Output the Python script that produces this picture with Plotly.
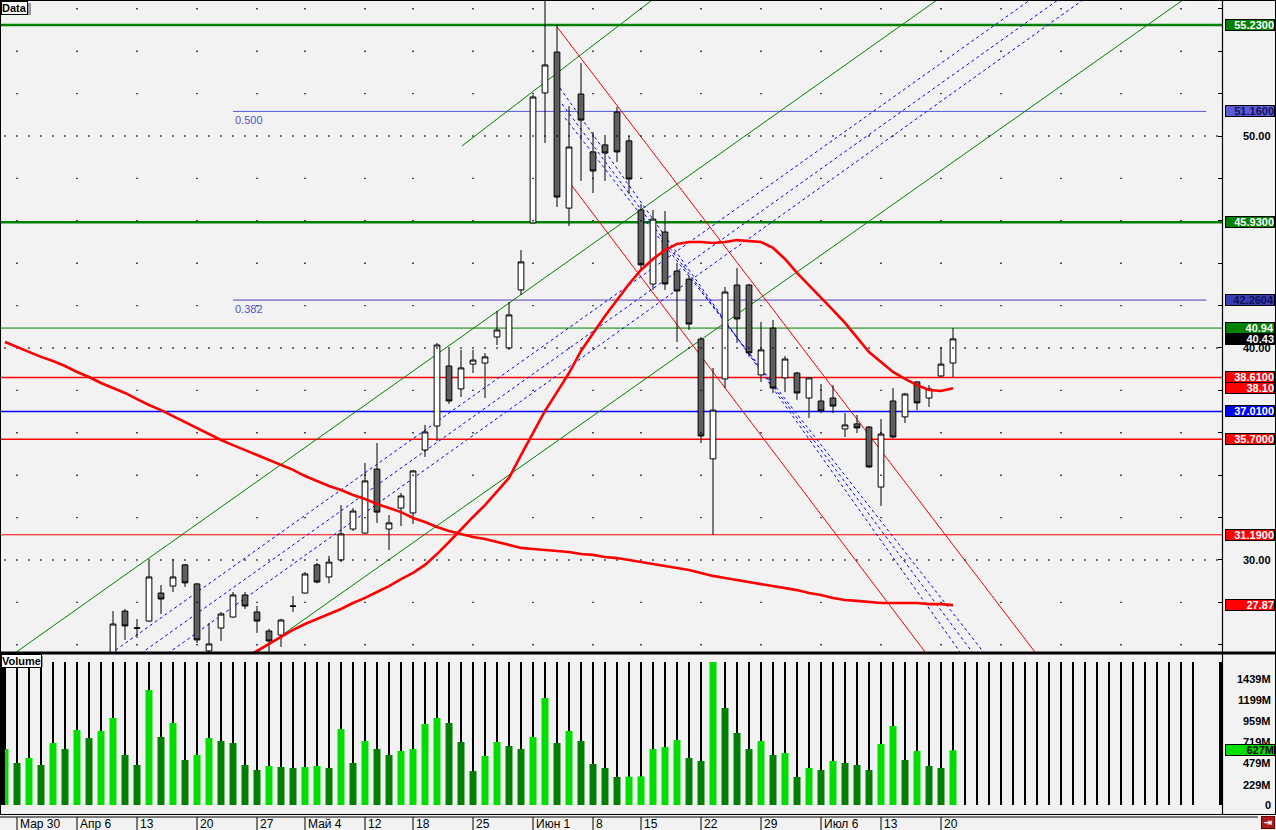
import plotly.graph_objects as go

# ---------------- data ----------------
bar_index = list(range(-1, 79))  # trading-day index, 0 = 30 Mar 2009

opens = [24.6, 24.9, 24.1, 24.4, 25.1, 24.6, 25.0, 24.8, 24.2, 25.1,
         27.59, 26.80, 27.12, 28.44, 28.77, 29.77, 28.87, 25.71, 26.79, 27.31,
         28.35, 27.55, 26.65, 26.46, 27.83, 28.44, 29.77, 29.20, 30.00, 31.46,
         31.27, 34.29, 31.46, 32.45, 32.22, 35.19, 36.32, 39.15, 38.07, 39.24,
         39.29, 40.52, 40.00, 42.74, 45.90, 52.03, 53.96, 46.60, 51.98, 49.25,
         49.58, 51.13, 49.77, 46.51, 43.02, 45.47, 43.63, 43.25, 40.42, 34.77,
         38.54, 42.97, 42.97, 38.73, 40.94, 38.59, 38.82, 37.64, 37.50, 37.64,
         36.18, 36.42, 36.27, 33.44, 37.50, 36.75, 38.40, 37.64, 38.68, 39.29]
highs = [25.3, 25.2, 24.6, 25.4, 25.4, 25.3, 25.4, 25.2, 25.3, 27.59,
         27.69, 27.22, 29.95, 28.82, 30.05, 29.81, 28.92, 27.03, 27.55, 28.49,
         28.49, 27.83, 26.75, 27.22, 28.30, 29.43, 29.86, 30.20, 32.59, 32.45,
         34.58, 35.52, 32.12, 33.16, 34.25, 36.37, 40.24, 39.95, 39.91, 39.91,
         39.76, 41.75, 42.17, 44.62, 51.95, 56.80, 55.23, 51.41, 53.44, 50.19,
         49.95, 51.37, 50.00, 46.79, 46.51, 46.46, 44.01, 43.40, 40.52, 39.06,
         42.88, 43.77, 43.02, 41.23, 41.32, 39.62, 38.87, 38.63, 38.30, 38.25,
         36.93, 36.84, 36.32, 36.65, 38.11, 37.88, 38.42, 38.25, 40.05, 40.94]
lows = [24.0, 23.9, 23.5, 24.2, 24.3, 24.1, 24.5, 23.9, 24.0, 24.9,
        26.23, 26.32, 27.10, 27.45, 28.49, 28.73, 26.08, 25.50, 26.18, 27.28,
        27.69, 26.56, 25.55, 25.90, 27.55, 28.42, 28.90, 28.90, 29.90, 31.37,
        31.25, 31.75, 30.47, 31.60, 31.70, 34.86, 35.61, 37.36, 37.69, 38.82,
        37.64, 40.14, 39.91, 42.50, 45.88, 49.67, 46.65, 45.75, 47.88, 47.31,
        47.88, 48.77, 47.26, 43.68, 42.74, 42.74, 40.28, 40.85, 35.52, 31.19,
        38.11, 40.24, 39.58, 38.40, 37.88, 37.92, 37.55, 36.70, 36.93, 36.93,
        35.80, 35.99, 34.34, 32.55, 35.75, 36.46, 37.07, 37.22, 38.63, 38.63]
closes = [24.9, 24.1, 24.4, 25.1, 24.6, 25.0, 24.8, 24.2, 25.1, 26.98,
          26.89, 26.78, 29.20, 28.16, 29.20, 28.92, 26.23, 26.04, 27.45, 28.35,
          27.83, 27.12, 26.18, 27.17, 27.82, 29.34, 28.96, 29.90, 31.23, 32.31,
          33.73, 32.26, 31.75, 33.02, 34.20, 36.04, 40.14, 37.50, 39.06, 39.43,
          39.58, 40.85, 41.56, 44.06, 51.84, 53.35, 47.12, 49.48, 50.75, 48.35,
          49.20, 49.25, 47.97, 43.92, 46.08, 43.02, 42.69, 41.13, 35.85, 37.07,
          42.64, 41.37, 39.77, 39.91, 38.11, 39.48, 37.88, 38.59, 37.03, 37.26,
          36.37, 36.23, 34.39, 35.94, 35.80, 37.83, 37.41, 38.07, 39.24, 40.43]
volume_m = [641, 481, 538, 458, 710, 641, 859, 767, 848, 997,
            573, 458, 1317, 779, 939, 516, 573, 767, 733, 710,
            458, 401, 447, 435, 424, 435, 447, 424, 870, 481,
            733, 641, 573, 619, 641, 928, 997, 939, 722, 389,
            561, 722, 676, 641, 779, 1226, 710, 848, 733, 470,
            424, 321, 325, 328, 641, 664, 744, 538, 504, 1638,
            1111, 825, 641, 733, 573, 596, 321, 424, 401, 504,
            481, 458, 401, 699, 905, 516, 619, 447, 424, 627]

ma_long = [40.28, 40.05, 39.81, 39.58, 39.39, 39.15, 38.87, 38.63, 38.35, 38.11,
           37.88, 37.59, 37.31, 37.07, 36.79, 36.51, 36.23, 35.94, 35.66, 35.42,
           35.19, 34.95, 34.71, 34.48, 34.25, 33.96, 33.73, 33.49, 33.30, 33.07,
           32.88, 32.64, 32.45, 32.26, 31.98, 31.79, 31.56, 31.37, 31.23, 31.08,
           30.99, 30.85, 30.71, 30.57, 30.52, 30.47, 30.42, 30.38, 30.28, 30.24,
           30.14, 30.09, 30.00, 29.91, 29.81, 29.72, 29.62, 29.53, 29.39, 29.25,
           29.15, 29.06, 28.96, 28.87, 28.77, 28.68, 28.58, 28.44, 28.35, 28.21,
           28.11, 28.07, 28.02, 27.97, 27.97, 27.97, 27.97, 27.92, 27.92, 27.87]
short_ma_index = list(range(18, 79))
ma_short = [25.09, 25.38, 25.71, 26.04, 26.37, 26.70, 26.98, 27.22, 27.45, 27.69,
            27.97, 28.21, 28.49, 28.77, 29.10, 29.39, 29.77, 30.28, 30.85, 31.46,
            32.03, 32.59, 33.21, 33.87, 34.95, 35.99, 37.03, 37.92, 38.82, 39.86,
            40.71, 41.51, 42.26, 43.02, 43.68, 44.20, 44.62, 44.91, 45.00, 45.00,
            44.95, 45.00, 45.09, 45.05, 45.00, 44.72, 44.20, 43.54, 42.97, 42.36,
            41.79, 41.18, 40.52, 39.81, 39.34, 38.87, 38.54, 38.25, 38.02, 37.97, 38.10]

week_tick_index = [0, 5, 10, 15, 20, 24, 29, 33, 38, 43, 48, 52, 57, 62, 67, 72, 77]
week_tick_text = ["Мар 30", "Апр 6", "13", "20", "27", "Май 4", "12", "18", "25",
                  "Июн 1", "8", "15", "22", "29", "Июл 6", "13", "20"]
future_week_index = [82, 87, 92, 97]

# horizontal levels (full width)
level_values = [55.23, 45.93, 40.94, 38.61, 37.01, 35.70, 31.19]
# fibonacci levels (start at bar 18)
fib_values = [51.16, 42.2604]
fib_text = ["0.500", "0.382"]
fib_start = 18.0

# trend lines: (bar index, price) anchor pairs
green_lines = [((-1.5, 25.08), (78.0, 56.95)),
               ((19.0, 25.23), (98.0, 56.75)),
               ((37.08, 49.53), (54.0, 56.88))]
blue_up_lines = [((7.0, 25.26), (85.0, 56.65)),
                 ((9.5, 25.26), (87.5, 56.72)),
                 ((11.75, 25.26), (89.5, 56.69))]
red_down_lines = [((45.0, 55.14), (86.0, 24.79)),
                  ((46.0, 47.83), (77.0, 24.67))]
blue_down_lines = [((45.25, 52.26), (80.0, 24.53)),
                   ((45.42, 51.51), (81.0, 24.6)),
                   ((45.67, 50.85), (82.0, 24.6))]

# right-hand value boxes
box_values = [55.23, 51.16, 45.93, 42.2604, 40.94, 40.43, 38.61, 38.10, 37.01, 35.70, 31.19, 27.87]
box_text = ["55.2300", "51.1600", "45.9300", "42.2604", "40.94", "40.43",
            "38.6100", "38.10", "37.0100", "35.7000", "31.1900", "27.87"]
price_tick_vals = [50, 40, 30]
price_tick_text = ["50.00", "40.00", "30.00"]
vol_tick_vals = [0, 229, 479, 719, 959, 1199, 1439]
vol_tick_text = ["0", "229M", "479M", "719M", "959M", "1199M", "1439M"]
vol_last_text = "627M"

# ---------------- styles ----------------
W, H = 1276, 830
PLOT_R = 1222
BG = "#f2f2f2"
level_colors = ["#008000", "#008000", "#008000", "#ff0000", "#0000ff", "#ff0000", "#ff0000"]
level_widths = [2.5, 2.5, 1, 1.5, 1.5, 1.5, 1]
fib_colors = ["#5555dd", "#5a3cb4"]
box_bg = ["#008000", "#5c5cd6", "#008000", "#3c3cb4", "#008000", "#000000",
          "#ff0000", "#ff0000", "#0000ff", "#ff0000", "#ff0000", "#ff0000"]
box_fg = ["white", "#101060", "white", "#101050", "white", "white",
          "white", "white", "white", "white", "white", "white"]
FONT = "Liberation Sans"

fig = go.Figure()

# dotted grid
dot_x, dot_y = [], []
week_all = week_tick_index + future_week_index
for lvl in range(26, 57, 2):
    xs = list(range(-1, 101)) if lvl % 10 == 0 else week_all
    for xv in xs:
        dot_x.append(xv)
        dot_y.append(lvl)
fig.add_trace(go.Scatter(x=dot_x, y=dot_y, mode="markers",
                         marker=dict(symbol="square", size=1.4, color="black", line=dict(width=0)),
                         hoverinfo="skip", xaxis="x", yaxis="y"))

fig.add_trace(go.Candlestick(
    x=bar_index, open=opens, high=highs, low=lows, close=closes,
    increasing=dict(fillcolor="white", line=dict(color="black", width=1)),
    decreasing=dict(fillcolor="#5f5f5f", line=dict(color="black", width=1)),
    whiskerwidth=0, hoverinfo="skip", xaxis="x", yaxis="y"))

fig.add_trace(go.Scatter(x=bar_index, y=ma_long, mode="lines",
                         line=dict(color="#ff0000", width=2.6), hoverinfo="skip",
                         xaxis="x", yaxis="y"))
fig.add_trace(go.Scatter(x=short_ma_index, y=ma_short, mode="lines",
                         line=dict(color="#ff0000", width=2.6), hoverinfo="skip",
                         xaxis="x", yaxis="y"))

# volume
slot_index = list(range(-1, 99))
vmax = max(volume_m)
fig.add_trace(go.Bar(x=slot_index, y=[vmax] * len(slot_index), width=0.1,
                     marker=dict(color="black", line=dict(width=0)), hoverinfo="skip",
                     xaxis="x", yaxis="y2"))
vol_colors = ["#00dd00" if i == 0 or v >= volume_m[i - 1] else "#008000"
              for i, v in enumerate(volume_m)]
fig.add_trace(go.Bar(x=bar_index, y=volume_m, width=0.58,
                     marker=dict(color=vol_colors, line=dict(width=0)), hoverinfo="skip",
                     xaxis="x", yaxis="y2"))

shapes = []
# level lines
for v, c, w in zip(level_values, level_colors, level_widths):
    shapes.append(dict(type="line", xref="paper", yref="y", x0=0, x1=PLOT_R / W, y0=v, y1=v,
                       line=dict(color=c, width=w), layer="below"))
for v, c in zip(fib_values, fib_colors):
    shapes.append(dict(type="line", xref="x", yref="y", x0=fib_start, x1=99.1, y0=v, y1=v,
                       line=dict(color=c, width=1), layer="below"))
for (p0, p1) in green_lines:
    shapes.append(dict(type="line", xref="x", yref="y", x0=p0[0], y0=p0[1], x1=p1[0], y1=p1[1],
                       line=dict(color="#008000", width=1), layer="below"))
for (p0, p1) in red_down_lines:
    shapes.append(dict(type="line", xref="x", yref="y", x0=p0[0], y0=p0[1], x1=p1[0], y1=p1[1],
                       line=dict(color="#ff0000", width=1), layer="below"))
for (p0, p1) in blue_up_lines + blue_down_lines:
    shapes.append(dict(type="line", xref="x", yref="y", x0=p0[0], y0=p0[1], x1=p1[0], y1=p1[1],
                       line=dict(color="#0000ff", width=1, dash="3px,3px"), layer="below"))

def py(px):
    return (H - px) / H

def pxx(px):
    return px / W

# frame lines
shapes += [
    dict(type="line", xref="paper", yref="paper", x0=0, x1=1, y0=py(0.5), y1=py(0.5), line=dict(color="black", width=1)),
    dict(type="line", xref="paper", yref="paper", x0=pxx(0.5), x1=pxx(0.5), y0=py(814), y1=1, line=dict(color="black", width=1)),
    dict(type="line", xref="paper", yref="paper", x0=pxx(1222.5), x1=pxx(1222.5), y0=py(814), y1=1, line=dict(color="black", width=1.2)),
    dict(type="line", xref="paper", yref="paper", x0=pxx(1275.5), x1=pxx(1275.5), y0=py(814), y1=1, line=dict(color="black", width=1)),
    dict(type="line", xref="paper", yref="paper", x0=0, x1=1, y0=py(653), y1=py(653), line=dict(color="black", width=3)),
    dict(type="line", xref="paper", yref="paper", x0=0, x1=1, y0=py(814.5), y1=py(814.5), line=dict(color="black", width=1)),
    dict(type="line", xref="paper", yref="paper", x0=0, x1=pxx(1258), y0=py(817), y1=py(817), line=dict(color="black", width=1)),
    dict(type="rect", xref="paper", yref="paper", x0=0, x1=pxx(5), y0=py(805), y1=py(662), fillcolor="black", line=dict(width=0)),
    dict(type="rect", xref="paper", yref="paper", x0=pxx(1219), x1=pxx(1222), y0=py(805), y1=py(662), fillcolor="black", line=dict(width=0)),
    # label shadows
    dict(type="rect", xref="paper", yref="paper", x0=pxx(3), x1=pxx(31), y0=py(15), y1=py(3), fillcolor="#9a9a9a", line=dict(width=0)),
    dict(type="rect", xref="paper", yref="paper", x0=pxx(3), x1=pxx(43), y0=py(667), y1=py(656), fillcolor="#9a9a9a", line=dict(width=0)),
]
# date ticks
for k in week_tick_index:
    shapes.append(dict(type="line", xref="x", yref="paper", x0=k, x1=k, y0=0, y1=py(817),
                       line=dict(color="black", width=1)))

ann = []
for k, t in zip(week_tick_index, week_tick_text):
    ann.append(dict(x=k, xref="x", y=py(823.5), yref="paper", text=t, showarrow=False,
                    xanchor="left", yanchor="middle", xshift=1,
                    font=dict(family=FONT, size=12, color="black")))
for v, t, c in zip(fib_values, fib_text, fib_colors):
    ann.append(dict(x=fib_start, xref="x", y=v, yref="y", text=t, showarrow=False,
                    xanchor="left", yanchor="top", yshift=-1,
                    font=dict(family=FONT, size=11, color="#5050d0")))
for v, t in zip(price_tick_vals, price_tick_text):
    ann.append(dict(x=pxx(1273), xref="paper", y=v, yref="y", text="<b>" + t + "</b>", showarrow=False,
                    xanchor="right", yanchor="middle", font=dict(family=FONT, size=11, color="black")))
for v, t, bg, fg in zip(box_values, box_text, box_bg, box_fg):
    ann.append(dict(x=pxx(1275), xref="paper", y=v, yref="y", text="<b>" + t + "</b>", showarrow=False,
                    xanchor="right", yanchor="middle", width=48, height=10, align="right",
                    bgcolor=bg, bordercolor="black", borderwidth=1, borderpad=0,
                    font=dict(family=FONT, size=11, color=fg)))
for v, t in zip(vol_tick_vals, vol_tick_text):
    ann.append(dict(x=pxx(1273), xref="paper", y=v, yref="y2", text="<b>" + t + "</b>", showarrow=False,
                    xanchor="right", yanchor="middle", font=dict(family=FONT, size=11, color="black")))
ann.append(dict(x=pxx(1275), xref="paper", y=volume_m[-1], yref="y2", text="<b>" + vol_last_text + "</b>",
                showarrow=False, xanchor="right", yanchor="middle", width=48, height=10, align="right",
                bgcolor="#00dd00", bordercolor="black", borderwidth=1, borderpad=0,
                font=dict(family=FONT, size=11, color="black")))
ann.append(dict(x=0, xref="paper", y=1, yref="paper", text="<b>Data</b>", showarrow=False,
                xanchor="left", yanchor="top", xshift=1, yshift=-1, bgcolor="white", bordercolor="black",
                borderwidth=1, borderpad=0, font=dict(family=FONT, size=11, color="black")))
ann.append(dict(x=0, xref="paper", y=py(653), yref="paper", text="<b>Volume</b>", showarrow=False,
                xanchor="left", yanchor="top", xshift=1, yshift=-1, bgcolor="white", bordercolor="black",
                borderwidth=1, borderpad=0, font=dict(family=FONT, size=11, color="black")))
ann.append(dict(x=pxx(1275), xref="paper", y=py(829), yref="paper", text="<b>⇥</b>", showarrow=False,
                xanchor="right", yanchor="bottom", width=12, height=11, bgcolor="#b01818",
                bordercolor="#700000", borderwidth=1, borderpad=0,
                font=dict(family="DejaVu Sans", size=10, color="white")))

fig.update_layout(
    width=W, height=H, margin=dict(l=0, r=0, t=0, b=0),
    paper_bgcolor=BG, plot_bgcolor=BG, showlegend=False, barmode="overlay", boxgap=0.32,
    xaxis=dict(domain=[0, PLOT_R / W], range=[-1.4167, 100.4167], showgrid=False, zeroline=False,
               showticklabels=False, ticks="", showline=False, rangeslider=dict(visible=False)),
    yaxis=dict(domain=[py(652), 1], range=[25.66, 56.415], side="right", showgrid=False,
               zeroline=False, showticklabels=False, ticks="inside", tickvals=list(range(26, 57, 2)),
               ticklen=4, tickcolor="black", tickwidth=1, showline=False, anchor="x"),
    yaxis2=dict(domain=[py(814), py(655)], range=[-103, 1718], side="right", showgrid=False,
                zeroline=False, showticklabels=False, ticks="", showline=False, anchor="x"),
    shapes=shapes, annotations=ann,
)

fig.write_html("out.html", config={"displayModeBar": False},
               post_script="document.body.style.margin='0px';")
